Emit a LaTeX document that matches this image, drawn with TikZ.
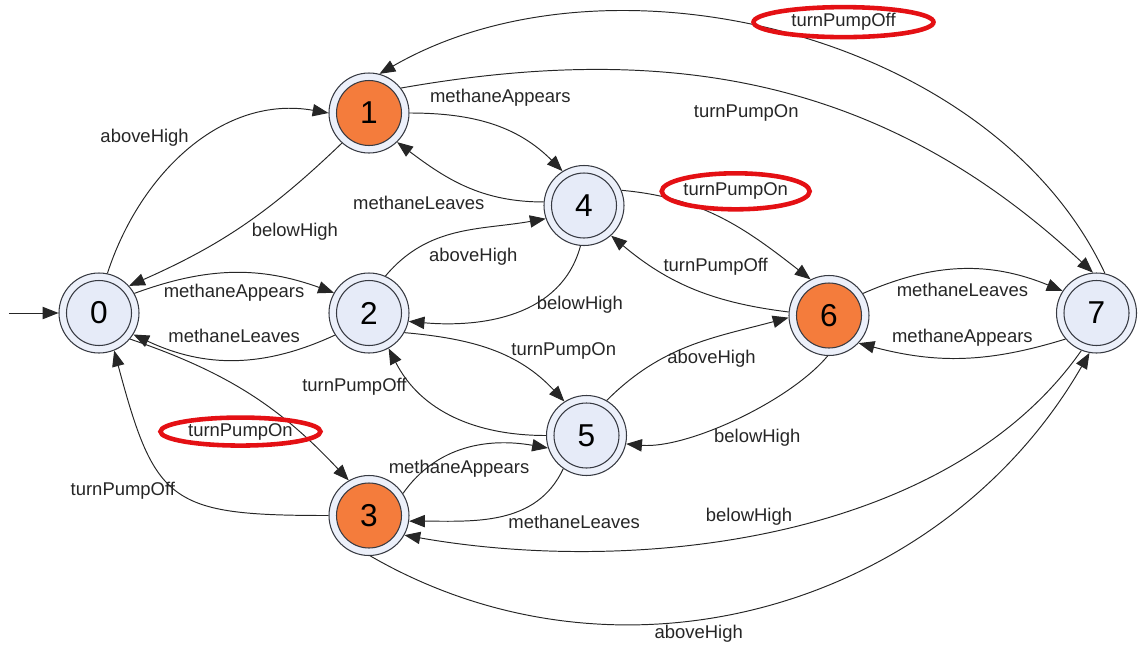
\documentclass[tikz,border=0pt]{standalone}
\usepackage{fontspec}
\setmainfont{Liberation Sans}
\usepackage{tikz}
\usetikzlibrary{arrows.meta,positioning,shapes.geometric}

\definecolor{ringblue}{RGB}{236,240,250}
\definecolor{coreblue}{RGB}{230,235,248}
\definecolor{pumporange}{RGB}{244,124,60}
\definecolor{rimgrey}{RGB}{55,58,66}
\definecolor{markred}{RGB}{228,16,20}

\begin{document}
\begin{tikzpicture}[node distance=5.4cm,
    state/.style={circle, draw=rimgrey, line width=0.6pt, fill=ringblue, minimum size=1.6cm, inner sep=0pt,
        font=\fontsize{18}{20}\selectfont,
        path picture={\draw[rimgrey, line width=0.6pt, fill=#1] (path picture bounding box.center) circle (0.65cm);}},
    state/.default=coreblue,
    trans/.style={-{Triangle[length=9pt,width=7pt]}, line width=0.55pt, black!85},
    lbl/.style={font=\fontsize{10.5}{12}\selectfont, inner sep=2pt},
    hilite/.style={lbl, ellipse, draw=markred, line width=2.6pt, inner sep=0pt, minimum width=#1, minimum height=0.56cm},
    hilite/.default=3.2cm]
        \useasboundingbox (-1.98,-6.66) rectangle (20.82,6.26);

        % states
        \node (s0) [state] {0};
        \node (s2) [state, right of=s0] {2};
        \node (s1) [state=pumporange, node distance=4cm, above of=s2] {1};
        \node (s3) [state=pumporange, node distance=4.05cm, below of=s2] {3};
        \node (s4) [state, node distance=4.3cm, right of=s2, yshift=2.15cm] {4};
        \node (s5) [state, node distance=4.35cm, right of=s2, yshift=-2.45cm] {5};
        \node (s6) [state=pumporange, node distance=4.9cm, right of=s4, yshift=-2.2cm] {6};
        \node (s7) [state, node distance=5.35cm, right of=s6, yshift=0.05cm] {7};
        \coordinate[node distance=1.8cm, left of=s0] (init);

        \draw[trans] (init) -- (s0);

        % from 0
        \draw[trans] (s0.78) to[out=72, in=170] node[lbl, pos=0.5, anchor=south east, inner sep=1pt] {aboveHigh} (s1.180);
        \draw[trans] (s0.29) to[bend left=20] node[lbl, below=0.15cm] {methaneAppears} (s2.150);
        \draw[trans] (s0.-40) to[bend left=14] node[hilite, pos=0.75, anchor=east, xshift=0.48cm] {turnPumpOn} (s3.120);

        % from 1
        \draw[trans] (s1.228) to[bend left=10] node[lbl, pos=0.55, right=0.3cm] {belowHigh} (s0.42);
        \draw[trans] (s1.0) to[out=0, in=135] node[lbl, pos=0.55, above=0.35cm] {methaneAppears} (s4.122);
        \draw[trans] (s1.38) to[out=10, in=137] node[lbl, pos=0.46, below=0.33cm] {turnPumpOn} (s7.95);

        % from 2
        \draw[trans] (s2.213) to[bend left=25] node[lbl, above=0.27cm] {methaneLeaves} (s0.328);
        \draw[trans] (s2.66) to[out=50, in=190] node[lbl, pos=0.6, below=0.3cm] {aboveHigh} (s4.199);
        \draw[trans] (s2.-29) to[out=-5, in=133] node[lbl, pos=0.5, right=0.3cm] {turnPumpOn} (s5.123);

        % from 3
        \draw[trans] (s3.180) to[out=180, in=-75, looseness=1.5] node[lbl, pos=0.5, anchor=east, inner sep=1pt] {turnPumpOff} (s0.-68);
        \draw[trans] (s3.33) to[out=55, in=170] node[lbl, pos=0.45, below=0.1cm] {methaneAppears} (s5.198);
        \draw[trans] (s3.-88) to[out=-30, in=-120] node[lbl, pos=0.41, below=0.04cm] {aboveHigh} (s7.-100);

        % from 4
        \draw[trans] (s4.175) to[out=180, in=-37] node[lbl, pos=0.35, anchor=north east, inner sep=1pt] {methaneLeaves} (s1.-46);
        \draw[trans] (s4.-95) to[out=-105, in=-5] node[lbl, pos=0.4, right] {belowHigh} (s2.-12);
        \draw[trans] (s4.22) to[out=-5, in=142] node[hilite=2.8cm, minimum height=0.72cm, pos=0.45, xshift=0.44cm, yshift=0.46cm] {turnPumpOn} (s6.117);

        % from 5
        \draw[trans] (s5.180) to[out=180, in=-63] node[lbl, pos=0.76, left=0.1cm] {turnPumpOff} (s2.-61);
        \draw[trans] (s5.-125) to[out=-115, in=0] node[lbl, pos=0.45, anchor=north west, inner sep=0pt] {methaneLeaves} (s3.-8);
        \draw[trans] (s5.60) to[out=45, in=195] node[lbl, pos=0.62, below=0.15cm] {aboveHigh} (s6.183);

        % from 6
        \draw[trans] (s6.175) to[out=173, in=-40] node[lbl, pos=0.37, above=0.35cm] {turnPumpOff} (s4.-48);
        \draw[trans] (s6.-92) to[out=-130, in=-5, looseness=0.7] node[lbl, pos=0.4, below=0.33cm] {belowHigh} (s5.-12);
        \draw[trans] (s6.33) to[bend left=23] node[lbl, below=0.19cm] {methaneLeaves} (s7.147);

        % from 7
        \draw[trans] (s7.220) to[bend left=16] node[lbl, above=0.15cm] {methaneAppears} (s6.-43);
        \draw[trans] (s7.-112) to[out=-125, in=-10, looseness=0.85] node[lbl, pos=0.54, above=0.12cm] {belowHigh} (s3.-29);
        \draw[trans] (s7.78) to[out=115, in=30, looseness=0.9] node[hilite=3.6cm, minimum height=0.6cm, pos=0.43, above=0.25cm] {turnPumpOff} (s1.75);
\end{tikzpicture}
\end{document}
